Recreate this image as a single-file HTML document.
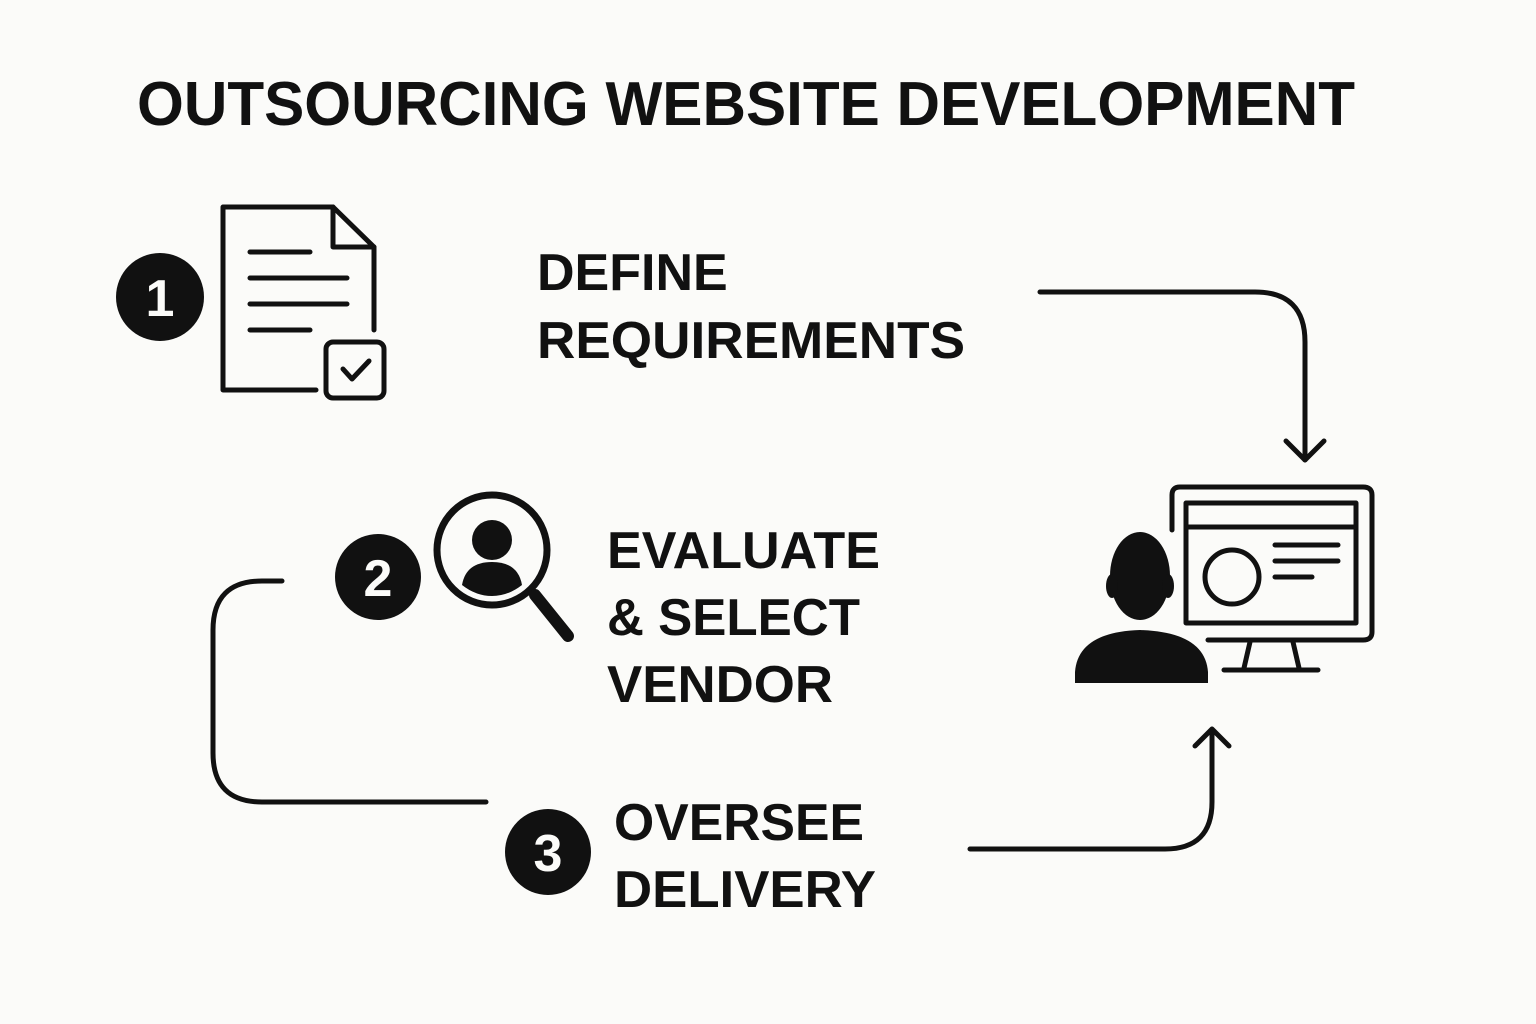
<!DOCTYPE html>
<html><head><meta charset="utf-8"><style>
html,body{margin:0;padding:0;background:#fbfbf9}
svg{display:block}
text{font-family:"Liberation Sans",sans-serif;font-weight:bold;fill:#111}
</style></head><body>
<svg width="1536" height="1024" viewBox="0 0 1536 1024" xmlns="http://www.w3.org/2000/svg">
<rect width="1536" height="1024" fill="#fbfbf9"/>
<text x="137" y="125" font-size="62" textLength="1218" lengthAdjust="spacingAndGlyphs">OUTSOURCING WEBSITE DEVELOPMENT</text>
<g fill="none" stroke="#111" stroke-width="5" stroke-linecap="round" stroke-linejoin="round">
<path d="M316 390 H223 V207 H333 L374 247 V330"/>
<path d="M333 207 V247 H374"/>
<path d="M250 252 H310 M250 278 H347 M250 304 H347 M250 330 H310"/>
<rect x="326" y="342" width="58" height="56" rx="7"/>
<path d="M343 369 L352 379 L369 361"/>
<path d="M1040 292 H1255 Q1305 292 1305 342 V460"/>
<path d="M1286 441 L1305 460 L1324 441"/>
<path d="M282 581 H262 Q213 581 213 630 V753 Q213 802 262 802 H486"/>
<path d="M970 849 H1165 Q1212 849 1212 802 V730"/>
<path d="M1195 746 L1212 729 L1229 746"/>
<circle cx="492" cy="550" r="55" stroke-width="7"/>
<path d="M1172 530 V495 Q1172 487 1180 487 H1363 Q1372 487 1372 495 V632 Q1372 640 1363 640 H1208"/>
<rect x="1186" y="503" width="170" height="120"/>
<path d="M1186 527 H1356"/>
<circle cx="1232" cy="577" r="27"/>
<path d="M1275 545 H1338 M1275 561 H1338 M1275 577 H1312"/>
<path d="M1250 642 L1244 668 M1293 642 L1299 668 M1224 670 H1318"/>
</g>
<path d="M535 595 L568 636" stroke="#111" stroke-width="12" stroke-linecap="round"/>
<circle cx="492" cy="540" r="20" fill="#111"/>
<path d="M462 585 Q466 562 492 562 Q518 562 522 585 Q508 596 492 596 Q476 596 462 585Z" fill="#111"/>
<ellipse cx="1140" cy="576" rx="30" ry="44" fill="#111"/>
<ellipse cx="1112" cy="586" rx="6" ry="12" fill="#111"/>
<ellipse cx="1168" cy="586" rx="6" ry="12" fill="#111"/>
<path d="M1075 683 V672 Q1078 632 1140 630 Q1205 632 1208 672 V683 Z" fill="#111"/>
<circle cx="160" cy="297" r="44" fill="#111"/>
<text x="160" y="316" font-size="52" text-anchor="middle" style="fill:#fbfbf9">1</text>
<circle cx="378" cy="577" r="43" fill="#111"/>
<text x="378" y="596" font-size="52" text-anchor="middle" style="fill:#fbfbf9">2</text>
<circle cx="548" cy="852" r="43" fill="#111"/>
<text x="548" y="871" font-size="52" text-anchor="middle" style="fill:#fbfbf9">3</text>
<text x="537" y="290" font-size="52">DEFINE</text>
<text x="537" y="358" font-size="52" textLength="428" lengthAdjust="spacingAndGlyphs">REQUIREMENTS</text>
<text x="607" y="568" font-size="52" textLength="273" lengthAdjust="spacingAndGlyphs">EVALUATE</text>
<text x="607" y="635" font-size="52" textLength="253" lengthAdjust="spacingAndGlyphs">&amp; SELECT</text>
<text x="607" y="702" font-size="52" textLength="226" lengthAdjust="spacingAndGlyphs">VENDOR</text>
<text x="614" y="840" font-size="52" textLength="250" lengthAdjust="spacingAndGlyphs">OVERSEE</text>
<text x="614" y="907" font-size="52" textLength="262" lengthAdjust="spacingAndGlyphs">DELIVERY</text>
</svg>
</body></html>
